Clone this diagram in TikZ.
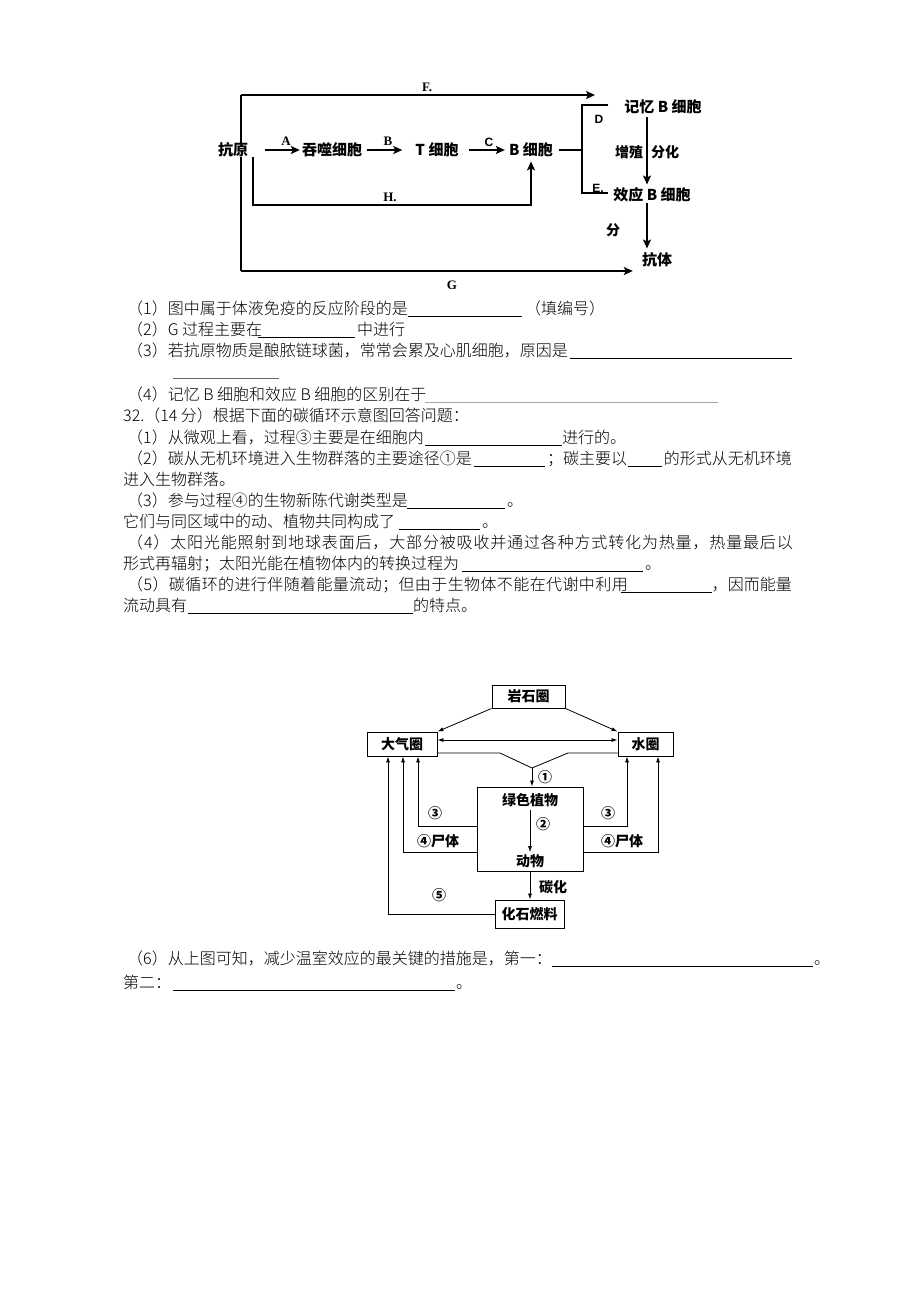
\documentclass[tikz,border=0pt]{standalone}
\usepackage{fontspec}
\setmainfont{Noto Sans CJK SC}
\newfontfamily\bodyf{Noto Sans CJK SC Light}
\newfontfamily\latinserif{Liberation Serif}
\newfontfamily\latinsans{Liberation Sans}
\usetikzlibrary{arrows.meta}
\begin{document}
\begin{tikzpicture}[x=1pt,y=-1pt,
  body/.style={anchor=west,inner sep=0pt,font=\bodyf\fontsize{16}{16}\selectfont,text height=13pt,text depth=3pt},
  bodye/.style={body,anchor=east},
  ul/.style={line width=0.7pt},
  tl/.style={line width=1.5pt},
  tarr/.style={tl,-{Stealth[length=9pt,width=8pt,inset=2pt]}},
  tlab/.style={inner sep=0pt,font=\bfseries\fontsize{15}{15}\selectfont},
  tlabs/.style={inner sep=0pt,font=\bfseries\fontsize{14}{14}\selectfont},
  tlet/.style={inner sep=0pt,font=\latinserif\bfseries\fontsize{13}{13}\selectfont},
  tlets/.style={inner sep=0pt,font=\latinsans\bfseries\fontsize{12}{12}\selectfont},
  bbox/.style={draw,line width=0.9pt,inner sep=0pt,font=\bfseries\fontsize{14}{14}\selectfont},
  blab/.style={inner sep=0pt,font=\bfseries\fontsize{14}{14}\selectfont},
  barr/.style={line width=0.8pt,-{Latex[length=6pt,width=4pt]}},
  bline/.style={line width=0.8pt},
]
\useasboundingbox (0,0) rectangle (920,1302);
\fill[white] (0,0) rectangle (920,1302);

% ---------------- top diagram ----------------
\coordinate (fL) at (241,95);
\coordinate (gL) at (241,271);
\coordinate (fR) at (595,95);
\draw[tl] (fL) -- (gL);
\node[tlab,fill=white,inner xsep=1pt] (ky) at (233,150) {抗原};
\node[tlab] (ts) at (332,150) {吞噬细胞};
\node[tlab] (tc) at (437,150) {T 细胞};
\node[tlab] (bc) at (531,150) {B 细胞};
\node[tlab] (jy) at (663,107) {记忆 B 细胞};
\node[tlab] (xy) at (652,195) {效应 B 细胞};
\node[tlab] (kt) at (657,260) {抗体};

\draw[tarr] (fL) -- (fR);
\draw[tarr,shorten >=9pt] (gL) -- (kt.west |- gL);
\draw[tarr,shorten <=16pt,shorten >=2pt] (ky.east) -- (ts.west);
\draw[tarr,shorten <=5pt,shorten >=13pt] (ts.east) -- (tc.west);
\draw[tarr,shorten <=10pt,shorten >=4pt] (tc.east) -- (bc.west);
\coordinate (bj) at (582,150);
\draw[tl,shorten <=6pt] (bc.east) -- (bj);
\coordinate (dT) at (608,105);
\coordinate (dB) at (608,193);
\draw[tl] (dT) -| (bj) |- (dB);
\coordinate (m1) at (647,117);
\draw[tarr,shorten >=3pt] (m1) -- (m1 |- xy.north);
\coordinate (m2) at (647,203);
\draw[tarr,shorten >=4pt] (m2) -- (m2 |- kt.north);
\coordinate (h1) at (253,205);
\draw[tarr,shorten >=4pt] (ky.south -| h1) -- (h1) -| (bc.south);

\node[tlet] (lA) at (286,141) {A};
\node[tlet] (lB) at (388,141) {B};
\node[tlets] (lC) at (489,142) {C};
\node[tlet] (lF) at (427,87) {F.};
\node[tlet] (lG) at (452,285) {G};
\node[tlet] (lH) at (390,197) {H.};
\node[tlets] (lD) at (599,119) {D};
\node[tlets] (lE) at (598,188) {E.};
\node[tlabs] (zz) at (629,152) {增殖};
\node[tlabs] (fh) at (665,152) {分化};
\node[tlabs] (fen) at (613,230) {分};

% ---------------- text ----------------
\node[body] (l1a) at (127,309) {（1）图中属于体液免疫的反应阶段的是};
\draw[ul] (408,316) -- (522,316);
\node[body] (l1b) at (525,309) {（填编号）};

\node[body] (l2a) at (127,330) {（2）G 过程主要在};
\draw[ul] (258,337) -- (355,337);
\node[body] (l2b) at (357,330) {中进行};

\node[body] (l3a) at (127,351) {（3）若抗原物质是酿脓链球菌，常常会累及心肌细胞，原因是};
\draw[line width=0.4pt] (570,358) -- (612,358);
\draw[ul] (612,358) -- (792,358);
\draw[line width=0.5pt,black!60] (173,378) -- (279,378);

\node[body] (l4a) at (127,395) {（4）记忆 B 细胞和效应 B 细胞的区别在于};
\draw[ul,black!35] (425,402) -- (718,402);

\node[body] (l5) at (123,416) {32.（14 分）根据下面的碳循环示意图回答问题：};

\node[body] (l6a) at (127,438) {（1）从微观上看，过程③主要是在细胞内};
\draw[ul] (425,445) -- (562,445);
\node[body] (l6b) at (562,438) {进行的。};

\node[body] (l7a) at (127,459) {（2）碳从无机环境进入生物群落的主要途径①是};
\draw[ul] (474,466) -- (545,466);
\node[body] (l7b) at (547,459) {；碳主要以};
\draw[ul] (628,466) -- (662,466);
\node[bodye] (l7c) at (792,459) {的形式从无机环境};

\node[body] (l8) at (123,480) {进入生物群落。};

\node[body] (l9a) at (127,501) {（3）参与过程④的生物新陈代谢类型是};
\draw[ul] (407,508) -- (505,508);
\node[body] (l9b) at (507,501) {。};

\node[body] (l10a) at (123,522) {它们与同区域中的动、植物共同构成了};
\draw[ul] (399,529) -- (480,529);
\node[body] (l10b) at (482,522) {。};

\node[body] (l11) at (127,543) {\addfontfeature{LetterSpace=5.3}（4）太阳光能照射到地球表面后，大部分被吸收并通过各种方式转化为热量，热量最后以};

\node[body] (l12a) at (123,564) {形式再辐射；太阳光能在植物体内的转换过程为};
\draw[ul] (462,571) -- (643,571);
\node[body] (l12b) at (645,564) {。};

\node[body] (l13a) at (127,585) {\addfontfeature{LetterSpace=2.5}（5）碳循环的进行伴随着能量流动；但由于生物体不能在代谢中利用};
\draw[ul] (621,592) -- (712,592);
\node[bodye] (l13b) at (792,585) {，因而能量};

\node[body] (l14a) at (123,606) {流动具有};
\draw[ul] (188,613) -- (413,613);
\node[body] (l14b) at (413,606) {的特点。};

\node[body] (l15a) at (127,959) {（6）从上图可知，减少温室效应的最关键的措施是，第一：};
\draw[ul] (552,966) -- (813,966);
\node[body] (l15b) at (814,959) {。};

\node[body] (l16a) at (123,983) {第二：};
\draw[ul] (173,990) -- (455,990);
\node[body] (l16b) at (456,983) {。};

% ---------------- carbon cycle diagram ----------------
\node[bbox,minimum width=73pt,minimum height=23pt] (yan) at (528.5,696.5) {岩石圈};
\node[bbox,minimum width=70pt,minimum height=24pt] (daqi) at (402,744) {大气圈};
\node[bbox,minimum width=55pt,minimum height=24pt] (shui) at (645.5,744) {水圈};
\node[bbox,minimum width=106pt,minimum height=84pt] (pbox) at (530,829) {};
\node[blab] (gp) at (530,800) {绿色植物};
\node[blab] (an) at (530,861) {动物};
\node[bbox,minimum width=69pt,minimum height=28pt] (fos) at (529.5,914) {化石燃料};

\draw[barr] (yan.south west) -- (daqi.north east);
\draw[barr] (yan.south east) -- (shui.north west);
\draw[bline,{Latex[length=6pt,width=4pt]}-{Latex[length=6pt,width=4pt]}] ([yshift=4pt]daqi.east) -- ([yshift=4pt]shui.west);
\coordinate (j1) at (532,768);
\coordinate (k1) at (500,753);
\coordinate (k2) at (568,753);
\draw[bline] ([yshift=-9pt]daqi.east) -- (k1) -- (j1) -- (k2) -- ([yshift=-9pt]shui.west);
\draw[barr] (j1) -- (j1 |- pbox.north);

\coordinate (xL1) at (418,0);
\coordinate (xL2) at (403,0);
\coordinate (xL3) at (388,0);
\coordinate (xR1) at (627,0);
\coordinate (xR2) at (658,0);
\coordinate (y3) at (0,826);
\coordinate (y4) at (0,852);
\draw[barr] (pbox.west |- y3) -| (daqi.south -| xL1);
\draw[barr] (pbox.west |- y4) -| (daqi.south -| xL2);
\draw[barr] (fos.west) -| (daqi.south -| xL3);
\draw[barr] (pbox.east |- y3) -| (shui.south -| xR1);
\draw[barr] (pbox.east |- y4) -| (shui.south -| xR2);
\draw[barr] (pbox.south) -- (pbox.south |- fos.north);
\draw[barr,shorten <=3pt,shorten >=2pt] (gp.south) -- (an.north);

\node[blab] (n1) at (545,777) {①};
\node[blab] (n2) at (543,824) {②};
\node[blab] (n3l) at (435,813) {③};
\node[blab] (n3r) at (608,813) {③};
\node[blab] (n4l) at (438,841) {④尸体};
\node[blab] (n4r) at (622,841) {④尸体};
\node[blab] (n5) at (439,895) {⑤};
\node[blab] (th) at (553,887) {碳化};
\end{tikzpicture}
\end{document}
